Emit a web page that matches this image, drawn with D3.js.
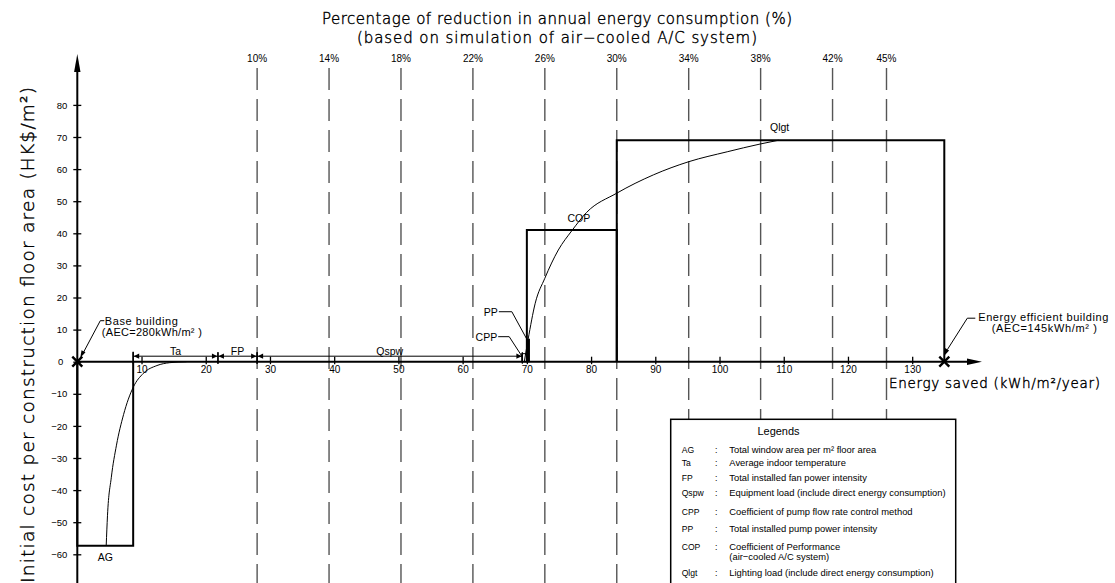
<!DOCTYPE html>
<html><head><meta charset="utf-8">
<script src="https://cdn.jsdelivr.net/npm/d3@7"></script>
<style>
body{margin:0;background:#fff}
text{font-family:"Liberation Sans",Arial,sans-serif;fill:#000}
.thin{font-family:"DejaVu Sans",sans-serif;font-weight:200;stroke:#000;stroke-width:0.4px}
</style>
</head><body>
<svg id="c" width="1115" height="583"></svg>
<script>
// ---- data ----
const xTicks = [10,20,30,40,50,60,70,80,90,100,110,120,130];
const yTicks = [-60,-50,-40,-30,-20,-10,0,10,20,30,40,50,60,70,80];
const pctLabels = ["10%","14%","18%","22%","26%","30%","34%","38%","42%","45%"];
const pctPositions = [28,39.2,50.4,61.6,72.8,84,95.2,106.4,117.6,126]; // kWh/m2/year saved
const stepNames = ["AG","COP","Qlgt"];
const stepStart = [0,70,84];
const stepEnd = [8.7,84,135];
const stepCost = [-57.3,41,69];
const smallNames = ["CPP","PP"];
const smallStart = [69.2,70];
const smallEnd = [70,70.4];
const smallCost = [2.5,7];
const dimNames = ["Ta","FP","Qspw"];
const dimStart = [8.7,21.9,28];
const dimEnd = [21.9,28,69.3];
const curveAX = [4.5,4.7,5.3,6.1,7.2,8.7,10.3,12.4,14.4,17];
const curveAY = [-57.3,-48,-36,-26,-16.5,-8,-3.6,-1.2,-0.3,0];
const curveBX = [69.6,70.2,71.3,72.8,74.9,77,79.3,84,89.7,95.2,101.2,106.3,109.2];
const curveBY = [0,7,18.2,26,34.8,40.8,46.5,52.5,58.2,62.3,65.4,67.8,69];
const legendKeys = ["AG","Ta","FP","Qspw","CPP","PP","COP","Qlgt"];
const legendDescs = [
  ["Total window area per m² floor area"],
  ["Average indoor temperature"],
  ["Total installed fan power intensity"],
  ["Equipment load (include direct energy consumption)"],
  ["Coefficient of pump flow rate control method"],
  ["Total installed pump power intensity"],
  ["Coefficient of Performance","(air\u2212cooled A/C system)"],
  ["Lighting load (include direct energy consumption)"]
];
const baseEnergy = 0, effEnergy = 135;

// ---- scales ----
const svg = d3.select("#c");
const x = d3.scaleLinear().domain([0,135]).range([77.3,944.3]);
const y = d3.scaleLinear().domain([0,80]).range([361.7,104.9]);
const y0 = y(0);

// ---- titles ----
svg.append("text").attr("class","thin").attr("x",557).attr("y",24).attr("text-anchor","middle")
  .attr("font-size",15).attr("textLength",470).attr("lengthAdjust","spacing")
  .text("Percentage of reduction in annual energy consumption (%)");
svg.append("text").attr("class","thin").attr("x",557).attr("y",43).attr("text-anchor","middle")
  .attr("font-size",15).attr("textLength",400).attr("lengthAdjust","spacing")
  .text("(based on simulation of air\u2212cooled A/C system)");

// y label
svg.append("text").attr("class","thin").attr("transform","translate(33.5,335) rotate(-90)")
  .attr("text-anchor","middle").attr("font-size",18.5)
  .attr("textLength",496).attr("lengthAdjust","spacing")
  .text("Initial cost per construction floor area (HK$/m²)");

// ---- percentage dashed lines ----
const pg = svg.append("g");
pg.selectAll("line").data(pctPositions).join("line")
  .attr("x1",d=>x(d)).attr("x2",d=>x(d)).attr("y1",68).attr("y2",583)
  .attr("stroke","#555").attr("stroke-width",1.4).attr("stroke-dasharray","22,9");
pg.selectAll("text").data(pctLabels).join("text")
  .attr("x",(d,i)=>x(pctPositions[i])).attr("y",62).attr("text-anchor","middle")
  .attr("font-size",10).text(d=>d);

// ---- axes ----
const ax = svg.append("g");
ax.append("line").attr("x1",x(0)).attr("x2",968).attr("y1",y0).attr("y2",y0)
  .attr("stroke","#000").attr("stroke-width",2);
ax.append("path").attr("d",`M967,${y0-3.2}L982,${y0}L967,${y0+3.2}Z`).attr("fill","#000");
ax.append("line").attr("x1",x(0)).attr("x2",x(0)).attr("y1",583).attr("y2",70)
  .attr("stroke","#000").attr("stroke-width",2);
ax.append("path").attr("d",`M${x(0)-3.2},72L${x(0)},54L${x(0)+3.2},72Z`).attr("fill","#000");

const xa = svg.append("g").attr("transform",`translate(0,${y0})`)
  .call(d3.axisBottom(x).tickValues(xTicks).tickSize(0).tickPadding(0));
xa.select(".domain").remove();
xa.selectAll(".tick line").attr("y1",-5).attr("y2",2.5).attr("stroke","#000").attr("stroke-width",1.3);
xa.selectAll(".tick text").attr("y",11.5).attr("dy",0).attr("font-size",10)
  .attr("font-family","Liberation Sans,Arial,sans-serif");

const ya = svg.append("g").attr("transform",`translate(${x(0)},0)`)
  .call(d3.axisLeft(y).tickValues(yTicks).tickSize(0).tickPadding(0)
    .tickFormat(d=>d<0?"\u2212"+Math.abs(d):d));
ya.select(".domain").remove();
ya.selectAll(".tick line").attr("x1",-4).attr("x2",4).attr("stroke","#000").attr("stroke-width",1.3);
ya.selectAll(".tick text").attr("x",d=>d===0?-14:-10).attr("dy","0.33em").attr("font-size",9.5)
  .attr("font-family","Liberation Sans,Arial,sans-serif");

// ---- step blocks ----
const sg = svg.append("g").attr("fill","none").attr("stroke","#000").attr("stroke-width",2);
stepNames.forEach((n,i)=>{
  const a=stepStart[i], b=stepEnd[i], c=stepCost[i];
  sg.append("path").attr("d",`M${x(a)},${y0}L${x(a)},${y(c)}L${x(b)},${y(c)}L${x(b)},${y0}`);
});
sg.append("line").attr("x1",x(stepEnd[0])).attr("x2",x(stepEnd[0])).attr("y1",y0).attr("y2",y0-10).attr("stroke-width",1.5);
smallNames.forEach((n,i)=>{
  svg.append("rect").attr("x",x(smallStart[i])).attr("y",y(smallCost[i]))
    .attr("width",x(smallEnd[i])-x(smallStart[i])).attr("height",y0-y(smallCost[i]))
    .attr("fill",n==="PP"?"#000":"none").attr("stroke","#000").attr("stroke-width",1);
});

// ---- dimension lines ----
const dg = svg.append("g");
const dy = y0-5.5;
dimNames.forEach((n,i)=>{
  const a=x(dimStart[i]), b=x(dimEnd[i]);
  dg.append("line").attr("x1",a).attr("x2",b).attr("y1",dy).attr("y2",dy).attr("stroke","#000").attr("stroke-width",1);
  dg.append("path").attr("d",`M${a+0.5},${dy}L${a+6},${dy-2.6}L${a+6},${dy+2.6}Z`).attr("fill","#000");
  dg.append("path").attr("d",`M${b-0.5},${dy}L${b-6},${dy-2.6}L${b-6},${dy+2.6}Z`).attr("fill","#000");
  [a,b].forEach(p=>dg.append("line").attr("x1",p).attr("x2",p).attr("y1",dy-4).attr("y2",y0+2).attr("stroke","#000").attr("stroke-width",1.3));
  dg.append("text").attr("x",(a+b)/2).attr("y",dy-1.5).attr("text-anchor","middle").attr("font-size",10.5).text(n);
});

// ---- curves ----
const line = d3.line().x(d=>x(d[0])).y(d=>y(d[1])).curve(d3.curveMonotoneX);
svg.append("path").attr("d",line(curveAX.map((v,i)=>[v,curveAY[i]])))
  .attr("fill","none").attr("stroke","#000").attr("stroke-width",1);
svg.append("path").attr("d",line(curveBX.map((v,i)=>[v,curveBY[i]])))
  .attr("fill","none").attr("stroke","#000").attr("stroke-width",1);

// ---- X marks ----
[baseEnergy,effEnergy].forEach(e=>{
  const cx=x(e);
  svg.append("path").attr("d",`M${cx-5},${y0-5}L${cx+5},${y0+5}M${cx-5},${y0+5}L${cx+5},${y0-5}`)
    .attr("stroke","#000").attr("stroke-width",2.4);
});

// ---- block labels ----
svg.append("text").attr("x",x(stepStart[0])+28).attr("y",y(stepCost[0])+15).attr("text-anchor","middle").attr("font-size",10.5).text(stepNames[0]);
svg.append("text").attr("x",(x(stepStart[1])+x(stepEnd[1]))/2+7).attr("y",y(stepCost[1])-8).attr("text-anchor","middle").attr("font-size",10.5).text(stepNames[1]);
svg.append("text").attr("x",x(curveBX[curveBX.length-1])+1).attr("y",y(stepCost[2])-9).attr("text-anchor","middle").attr("font-size",10.5).text(stepNames[2]);

// PP / CPP leaders
const lg = svg.append("g").attr("fill","none").attr("stroke","#000").attr("stroke-width",1);
const ppX = x(smallStart[1]), ppY = y(smallCost[1]);
lg.append("path").attr("d",`M${ppX-28},${ppY-27.5}L${ppX-15},${ppY-27.5}L${ppX},${ppY}`);
svg.append("text").attr("x",ppX-29).attr("y",ppY-23.5).attr("text-anchor","end").attr("font-size",10.5).text("PP");
const cpX = x(smallStart[0])+0.5, cpY = y(smallCost[0])+3;
lg.append("path").attr("d",`M${cpX-24},${cpY-20}L${cpX-13},${cpY-20}L${cpX},${cpY}`);
svg.append("text").attr("x",cpX-25).attr("y",cpY-16).attr("text-anchor","end").attr("font-size",10.5).text("CPP");

// base building leader
const bx = x(baseEnergy);
lg.append("path").attr("d",`M${bx+27},${y0-41}L${bx+23},${y0-41}L${bx+6},${y0-9}`);
svg.append("path").attr("d",`M${bx+3},${y0-4}L${bx+4.2},${y0-11.5}L${bx+8.2},${y0-9.4}Z`).attr("fill","#000");
svg.append("text").attr("x",bx+27.5).attr("y",y0-37).attr("font-size",11).attr("textLength",73).attr("lengthAdjust","spacing").text("Base building");
svg.append("text").attr("x",bx+24.5).attr("y",y0-25.5).attr("font-size",11).attr("textLength",100).attr("lengthAdjust","spacing").text("(AEC=280kWh/m² )");

// efficient building leader
const ex = x(effEnergy);
lg.append("path").attr("d",`M${ex+31},${y0-43.5}L${ex+23},${y0-43.5}L${ex+3},${y0-12}`);
svg.append("path").attr("d",`M${ex},${y0-6}L${ex+0.8},${y0-13.6}L${ex+4.8},${y0-11.2}Z`).attr("fill","#000");
svg.append("text").attr("x",ex+34).attr("y",y0-41).attr("font-size",11).attr("textLength",130).attr("lengthAdjust","spacing").text("Energy efficient building");
svg.append("text").attr("x",ex+47.5).attr("y",y0-30).attr("font-size",11).attr("textLength",105).attr("lengthAdjust","spacing").text("(AEC=145kWh/m² )");

// x axis label
svg.append("text").attr("class","thin").attr("x",889).attr("y",387.5).attr("font-size",13.5).attr("textLength",211).attr("lengthAdjust","spacing").text("Energy saved (kWh/m²/year)");

// ---- legend ----
const L = svg.append("g");
L.append("rect").attr("x",670.7).attr("y",419.3).attr("width",285).attr("height",200)
  .attr("fill","#fff").attr("stroke","#000").attr("stroke-width",1.5);
L.append("text").attr("x",778.5).attr("y",434.5).attr("text-anchor","middle").attr("font-size",11).text("Legends");
const rowY = [453,466.3,481.3,496.3,515.3,532.3,549.7,576.3];
legendKeys.forEach((k,i)=>{
  L.append("text").attr("x",681.7).attr("y",rowY[i]).attr("font-size",8.6).text(k);
  L.append("text").attr("x",715).attr("y",rowY[i]).attr("font-size",8.6).text(":");
  legendDescs[i].forEach((t,j)=>{
    L.append("text").attr("x",729.3).attr("y",rowY[i]+j*10).attr("font-size",9.4).text(t);
  });
});
</script>
</body></html>
